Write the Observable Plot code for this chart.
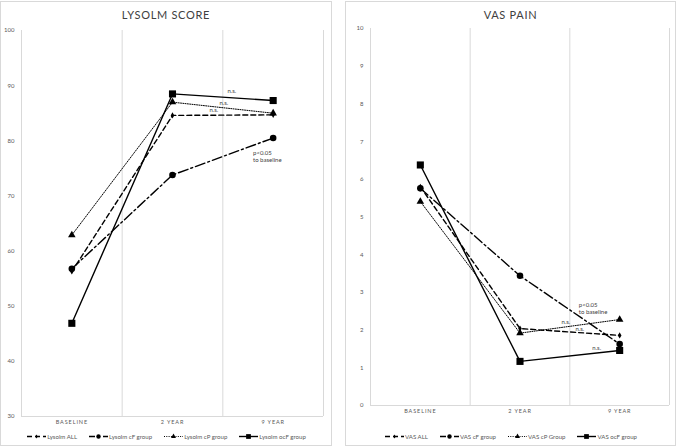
<!DOCTYPE html>
<html><head><meta charset="utf-8">
<script src="https://cdn.jsdelivr.net/npm/d3@7"></script>
<script src="https://cdn.jsdelivr.net/npm/@observablehq/plot@0.6"></script>
<style>
body{margin:0;background:#fff;font-family:Lato,"Open Sans",sans-serif;}
#wrap{position:relative;width:677px;height:447px;overflow:hidden;}
.panel{position:absolute;top:1px;height:445px;border:1px solid #d9d9d9;box-sizing:border-box;background:#fff;}
.title{height:21px;line-height:25px;text-align:center;font-size:11px;letter-spacing:0.7px;color:#404040;}
.panel svg.plot{display:block;}
.legend{display:flex;justify-content:center;gap:11px;font-size:6.1px;color:#595959;align-items:center;height:13px;}
.legend .item{display:flex;align-items:center;}
</style></head><body><div id="wrap"></div>
<script>
const categories = ["BASELINE", "2 YEAR", "9 YEAR"];

const lysolmSeries = ["Lysolm ALL", "Lysolm cF group", "Lysolm cP group", "Lysolm ocF group"];
const lysolmALL = [56.3, 84.6, 84.7];
const lysolmCF = [56.8, 73.8, 80.5];
const lysolmCP = [62.9, 87.0, 85.0];
const lysolmOCF = [46.9, 88.5, 87.3];
const lysolmTicks = [30, 40, 50, 60, 70, 80, 90, 100];
const lysolmNS = [
  {x: 1.59, y: 89.0, text: "n.s."},
  {x: 1.51, y: 86.8, text: "n.s."},
  {x: 1.41, y: 85.5, text: "n.s."}
];
const lysolmP = [{x: 1.80, y: 77.2, text: "p<0.05\nto baseline"}];

const vasSeries = ["VAS ALL", "VAS cF group", "VAS cP Group", "VAS ocF group"];
const vasALL = [5.8, 2.04, 1.86];
const vasCF = [5.76, 3.44, 1.63];
const vasCP = [5.41, 1.92, 2.28];
const vasOCF = [6.38, 1.17, 1.46];
const vasTicks = [0, 1, 2, 3, 4, 5, 6, 7, 8, 9, 10];
const vasNS = [
  {x: 1.46, y: 2.20, text: "n.s."},
  {x: 1.60, y: 2.02, text: "n.s."},
  {x: 1.77, y: 1.51, text: "n.s."}
];
const vasP = [{x: 1.59, y: 2.59, text: "p<0.05\nto baseline"}];

// series styles: ALL, cF, cP, ocF
const dashes = ["5,3", "10,3,2,3", "1,1.3", null];
const symbols = ["diamond", "circle", "triangle", "square"];
const symbolFns = [d3.symbolDiamond, d3.symbolCircle, d3.symbolTriangle, d3.symbolSquare];
const radii = [1.9, 3.3, 2.8, 4];
const widths = [1.4, 1.4, 1, 1.4];

function swatch(s) {
  const ns = "http://www.w3.org/2000/svg";
  const svg = document.createElementNS(ns, "svg");
  svg.setAttribute("width", 21); svg.setAttribute("height", 9);
  const line = document.createElementNS(ns, "line");
  line.setAttribute("x1", 1); line.setAttribute("x2", 20);
  line.setAttribute("y1", 4.5); line.setAttribute("y2", 4.5);
  line.setAttribute("stroke", "#000");
  line.setAttribute("stroke-width", widths[s]);
  if (dashes[s]) line.setAttribute("stroke-dasharray", dashes[s] === "10,3,2,3" ? "6,3,2,3" : dashes[s]);
  svg.appendChild(line);
  const p = document.createElementNS(ns, "path");
  p.setAttribute("d", d3.symbol(symbolFns[s], Math.PI * radii[s] * radii[s] * 0.45)());
  p.setAttribute("transform", "translate(10.5,4.5)");
  svg.appendChild(p);
  return svg;
}

function makeChart(cfg) {
  const panel = document.createElement("div");
  panel.className = "panel";
  panel.style.left = cfg.left + "px";
  panel.style.width = cfg.width + "px";
  const t = document.createElement("div");
  t.className = "title"; t.textContent = cfg.title;
  panel.appendChild(t);

  const idx = categories.map((c, i) => i);
  const bounds = d3.range(categories.length + 1).map(i => i - 0.5);
  const marks = [
    Plot.ruleX(bounds, {stroke: "#d9d9d9", y1: cfg.domain[0], y2: cfg.domain[1]}),
    Plot.ruleY([cfg.domain[0]], {stroke: "#d9d9d9"}),
    Plot.axisX(idx, {tickFormat: i => categories[i], tickSize: 0, tickPadding: 4, fontSize: 5.5, fill: "#595959", label: null}),
    Plot.axisY(cfg.ticks, {tickSize: 0, tickPadding: 7, fontSize: 6, fill: "#595959", label: null})
  ];
  cfg.values.forEach((vals, s) => {
    const data = vals.map((v, i) => ({x: i, y: v}));
    marks.push(Plot.line(data, {x: "x", y: "y", stroke: "#000", strokeWidth: widths[s], strokeDasharray: dashes[s] || undefined}));
  });
  cfg.values.forEach((vals, s) => {
    const data = vals.map((v, i) => ({x: i, y: v}));
    marks.push(Plot.dot(data, {x: "x", y: "y", symbol: symbols[s], r: radii[s], fill: "#000", stroke: "none"}));
  });
  marks.push(Plot.text(cfg.ns, {x: "x", y: "y", text: "text", fontSize: 6, fill: "#404040"}));
  marks.push(Plot.text(cfg.p, {x: "x", y: "y", text: "text", fontSize: 6, fill: "#404040", textAnchor: "start", lineHeight: 1.15}));

  const chart = Plot.plot({
    width: cfg.width - 2,
    height: cfg.height,
    marginLeft: cfg.ml, marginRight: cfg.mr, marginTop: cfg.mt, marginBottom: cfg.mb,
    x: {type: "linear", domain: [-0.5, categories.length - 0.5]},
    y: {domain: cfg.domain},
    style: {fontFamily: "Lato, 'Open Sans', sans-serif", background: "transparent", overflow: "visible"},
    marks
  });
  chart.classList.add("plot");
  d3.select(chart).selectAll('g[aria-label="x-axis tick label"] text').attr("letter-spacing", "0.9px");
  panel.appendChild(chart);

  const lg = document.createElement("div");
  lg.className = "legend";
  lg.style.marginTop = cfg.lgTop + "px";
  cfg.series.forEach((name, s) => {
    const it = document.createElement("div");
    it.className = "item";
    it.appendChild(swatch(s));
    const sp = document.createElement("span"); sp.textContent = name;
    it.appendChild(sp);
    lg.appendChild(it);
  });
  panel.appendChild(lg);
  document.getElementById("wrap").appendChild(panel);
}

makeChart({
  left: 0, width: 332, title: "LYSOLM SCORE", series: lysolmSeries,
  values: [lysolmALL, lysolmCF, lysolmCP, lysolmOCF],
  ticks: lysolmTicks, domain: [30, 100], ns: lysolmNS, p: lysolmP,
  height: 407, ml: 20, mr: 8, mt: 7, mb: 14, lgTop: 0
});
makeChart({
  left: 345, width: 331, title: "VAS PAIN", series: vasSeries,
  values: [vasALL, vasCF, vasCP, vasOCF],
  ticks: vasTicks, domain: [0, 10], ns: vasNS, p: vasP,
  height: 407, ml: 24, mr: 6, mt: 5, mb: 25, lgTop: 0
});
</script></body></html>
